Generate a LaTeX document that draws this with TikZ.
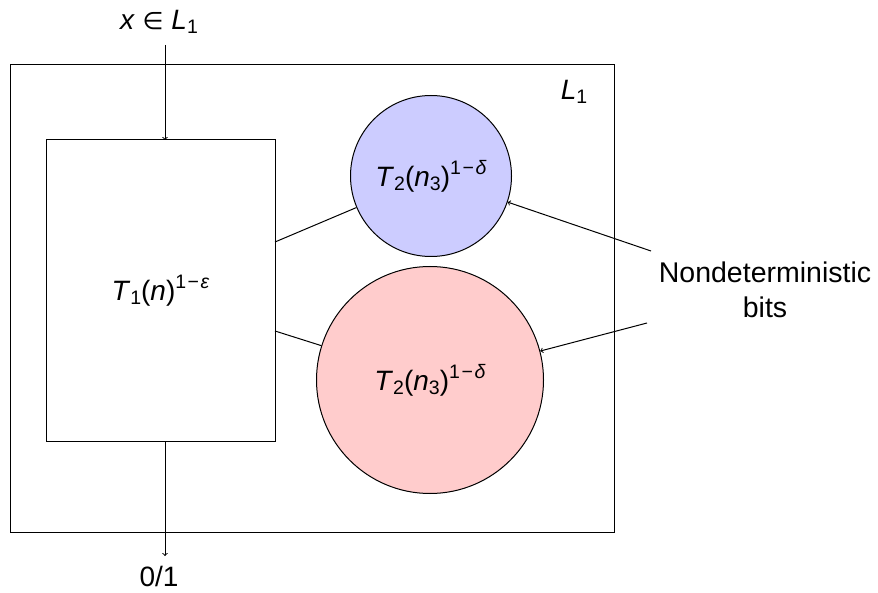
\documentclass[tikz,border=0pt]{standalone}
\usepackage{fontspec}
\setmainfont{Liberation Sans}
\newfontfamily\symf{DejaVu Sans}
\newcommand{\lowr}[1]{\raisebox{-0.16em}{\fontsize{19.5}{19.5}\selectfont #1}}
\newcommand{\upr}[1]{\raisebox{0.42em}{\fontsize{19.5}{19.5}\selectfont #1}}
\newcommand{\vi}[1]{\textit{#1}}
\newcommand{\mminus}{\hspace{0.08em}−\hspace{0.08em}}
\tikzset{
  lbl/.style={font=\fontsize{28.5}{35}\selectfont, inner sep=0pt},
  mth/.style={font=\fontsize{28}{32}\selectfont, inner sep=0pt},
  ln/.style={line width=1pt},
  arr/.style={ln,->},
}
\begin{document}
\begin{tikzpicture}[x=1pt,y=-1pt]
\useasboundingbox (0,0) rectangle (878,593);
\draw[ln] (10,65) rectangle (614,532);
\node[ln,draw,minimum width=229pt,minimum height=301pt,inner sep=0pt] (T1) at (160.5,290.5) {};
\node[mth] at (T1) {\vi{T}\lowr{1}(\vi{n})\upr{1\mminus\vi{ε}}};
\node[ln,draw,fill=blue!20,circle,minimum size=161pt,inner sep=0pt] (B) at (431,176) {};
\node[mth] at (B) {\vi{T}\lowr{2}(\vi{n}\lowr{3})\upr{1\mminus\vi{δ}}};
\node[ln,draw,fill=red!20,circle,minimum size=227pt,inner sep=0pt] (R) at (430,380) {};
\node[mth] at (R) {\vi{T}\lowr{2}(\vi{n}\lowr{3})\upr{1\mminus\vi{δ}}};
\node[mth] (L) at (574,92) {\vi{L}\lowr{1}};
\node[mth] (x) at (159,22) {\vi{x} {\symf\fontsize{24}{24}\selectfont ∈} \vi{L}\lowr{1}};
\node[mth] (o) at (159,576) {0/1};
\node[lbl,align=center] (N) at (765,290) {Nondeterministic\\bits};
\coordinate (xs) at (165,45);
\coordinate (xe) at (165,140);
\coordinate (os) at (165,441);
\coordinate (oe) at (165,556);
\coordinate (n1) at (651,251);
\coordinate (n2) at (647,323);
\coordinate (a1) at (275,242);
\coordinate (a2) at (275,331);
\draw[arr] (xs) -- (xe);
\draw[arr] (os) -- (oe);
\draw[arr] (n1) -- (B);
\draw[arr] (n2) -- (R);
\draw[ln] (a1) -- (B);
\draw[ln] (a2) -- (R);
\end{tikzpicture}
\end{document}
